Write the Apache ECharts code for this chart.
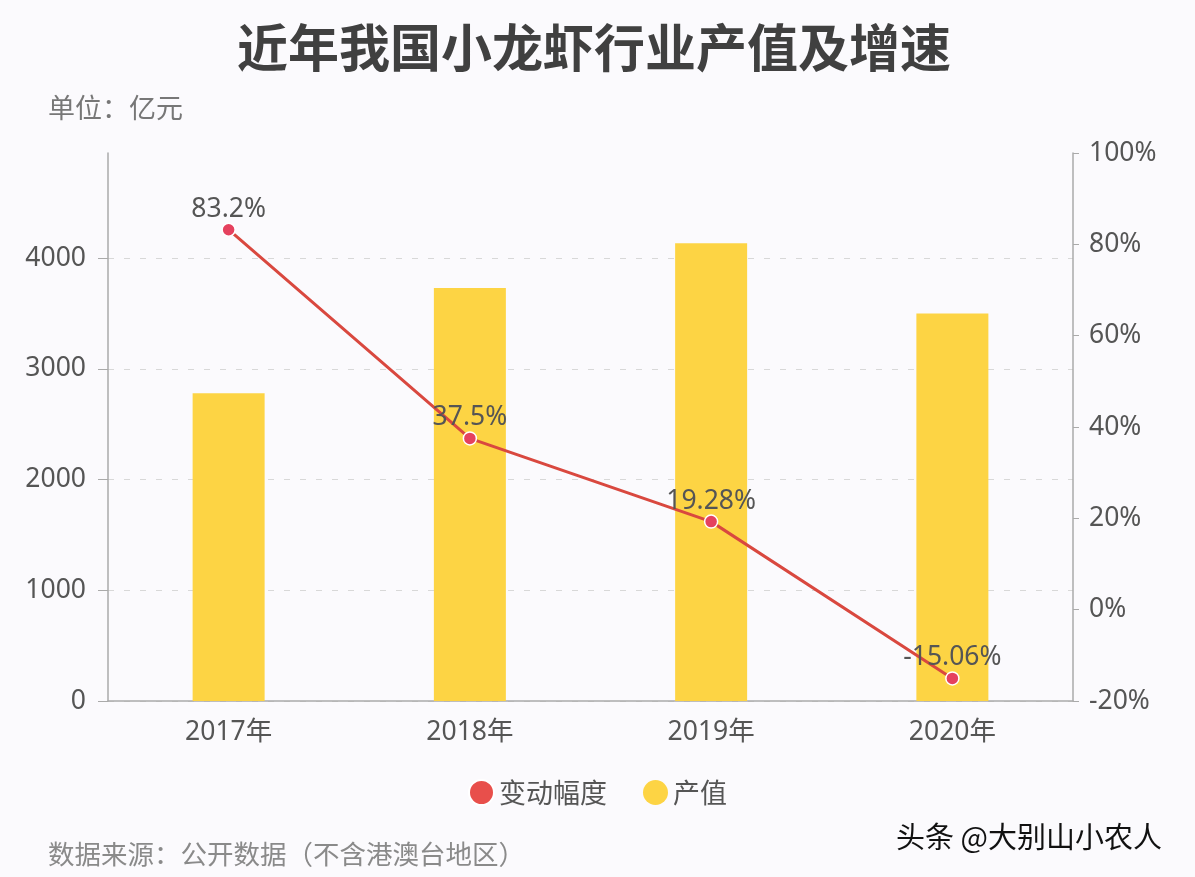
<!DOCTYPE html>
<html><head><meta charset="utf-8">
<script src="https://cdn.jsdelivr.net/npm/echarts@6/dist/echarts.min.js"></script>
<style>html,body{margin:0;padding:0;background:#fbfafd;}#c{width:1195px;height:877px;}</style>
</head><body><div id="c"></div>
<script>
const categories = ['2017年', '2018年', '2019年', '2020年'];
const outputValue = [2780, 3730, 4135, 3500];
const growthRate = [83.2, 37.5, 19.28, -15.06];
const rateLabels = ['83.2%', '37.5%', '19.28%', '-15.06%'];

const FONT = '"Noto Sans CJK SC", "Noto Sans", sans-serif';
const NUMFONT = '"Noto Sans", "Noto Sans CJK SC", sans-serif';
const chart = echarts.init(document.getElementById('c'), null, {renderer: 'canvas'});
chart.setOption({
  backgroundColor: '#fbfafd',
  textStyle: {fontFamily: NUMFONT},
  title: [
    {text: '近年我国小龙虾行业产值及增速', left: 232, top: 17,
     textStyle: {fontSize: 51, fontWeight: 'bold', color: '#404040', fontFamily: FONT}},
    {text: '单位：亿元', left: 43, top: 89,
     textStyle: {fontSize: 27, fontWeight: 'normal', color: '#777', fontFamily: FONT}},
    {text: '数据来源：公开数据（不含港澳台地区）', left: 43, top: 836,
     textStyle: {fontSize: 26.5, fontWeight: 'normal', color: '#8a8a8a', fontFamily: FONT}},
    {text: '头条 @大别山小农人', left: 891, top: 817,
     textStyle: {fontSize: 29, fontWeight: 'normal', color: '#111', fontFamily: FONT}}
  ],
  legend: {
    bottom: 66, left: 'center', itemGap: 36,
    icon: 'circle', itemWidth: 25, itemHeight: 25,
    textStyle: {fontSize: 27, color: '#555', fontFamily: FONT},
    data: [{name: '变动幅度', itemStyle: {color: '#e84f4b'}}, '产值']
  },
  grid: {left: 108, right: 122, top: 153, bottom: 176},
  xAxis: {
    type: 'category', data: categories,
    axisLine: {lineStyle: {color: '#aaa', width: 1.5}},
    axisTick: {alignWithLabel: true, length: 6, lineStyle: {color: '#aaa'}},
    axisLabel: {fontSize: 26.5, color: '#555', margin: 18, fontFamily: NUMFONT}
  },
  yAxis: [
    {type: 'value', min: 0, max: 4950, interval: 1000,
     axisLine: {show: true, lineStyle: {color: '#aaa', width: 1.5}},
     axisTick: {show: true, length: 10, lineStyle: {color: '#aaa'}},
     axisLabel: {fontSize: 26.5, color: '#555', margin: 22, showMaxLabel: false, fontFamily: NUMFONT,
                 formatter: v => String(v)},
     splitLine: {show: true, showMaxLine: false, lineStyle: {type: [6, 10], color: '#d8d8d8', width: 1}}},
    {type: 'value', min: -20, max: 100, interval: 20,
     axisLine: {show: true, lineStyle: {color: '#aaa', width: 1.5}},
     axisTick: {show: true, length: 6, lineStyle: {color: '#aaa'}},
     axisLabel: {fontSize: 26.5, color: '#555', margin: 16, formatter: '{value}%', fontFamily: NUMFONT},
     splitLine: {show: false}}
  ],
  series: [
    {name: '变动幅度', type: 'line', yAxisIndex: 1, data: growthRate, z: 5,
     symbol: 'circle', symbolSize: 13,
     itemStyle: {color: '#e5415e', borderColor: '#fff', borderWidth: 1.5},
     lineStyle: {color: '#d9483f', width: 3},
     label: {show: true, position: 'top', distance: 0, fontSize: 26.5, color: '#555',
             fontFamily: NUMFONT,
             formatter: p => rateLabels[p.dataIndex]}},
    {name: '产值', type: 'bar', yAxisIndex: 0, data: outputValue, barWidth: 72, z: 2,
     itemStyle: {color: '#fdd444'}}
  ]
});
</script></body></html>
